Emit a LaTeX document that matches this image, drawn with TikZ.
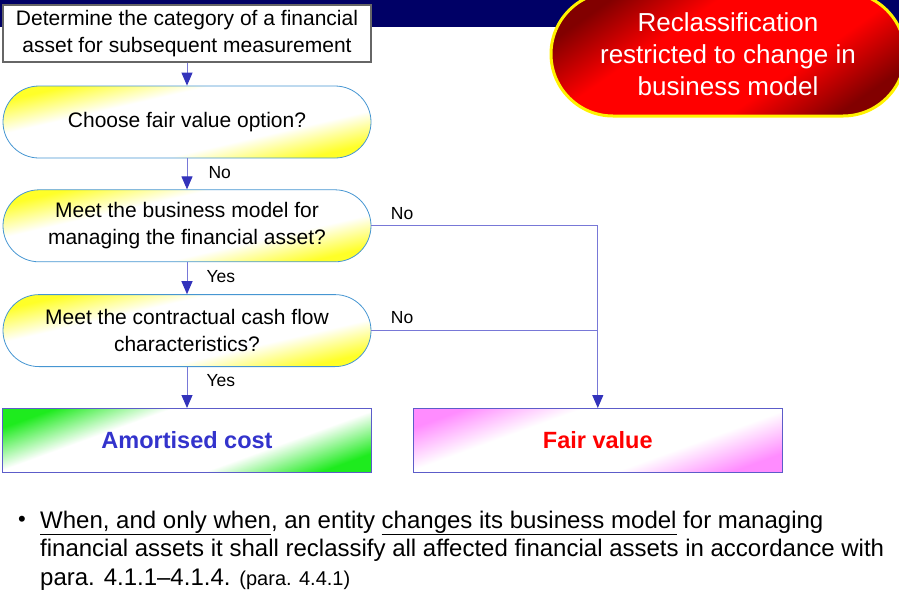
\documentclass[tikz,border=0pt]{standalone}
\usepackage{fontspec}
\setmainfont{Liberation Sans}
\usetikzlibrary{shapes,arrows.meta,positioning}

\definecolor{navybar}{RGB}{0,0,102}
\definecolor{arrowblue}{RGB}{51,51,187}
\definecolor{linkblue}{RGB}{120,120,215}
\definecolor{pillblue}{RGB}{70,150,210}
\definecolor{pillyellow}{RGB}{255,255,40}
\definecolor{boxgreen}{RGB}{30,235,30}
\definecolor{boxpink}{RGB}{255,140,255}
\definecolor{darkred}{RGB}{130,0,0}
\definecolor{costblue}{RGB}{51,51,204}

% diagonal fills (50bp = centre line, 1bp = 8pt across the shaded strip)
\pgfdeclareverticalshading{yellowshade}{100bp}{color(0bp)=(pillyellow); color(42.25bp)=(pillyellow); color(46.25bp)=(white); color(53.75bp)=(white); color(57.75bp)=(pillyellow); color(100bp)=(pillyellow)}
\pgfdeclareverticalshading{greenshade}{100bp}{color(0bp)=(boxgreen); color(40.6bp)=(boxgreen); color(45.6bp)=(white); color(54.4bp)=(white); color(59.4bp)=(boxgreen); color(100bp)=(boxgreen)}
\pgfdeclareverticalshading{pinkshade}{100bp}{color(0bp)=(boxpink); color(40.6bp)=(boxpink); color(45.6bp)=(white); color(54.4bp)=(white); color(59.4bp)=(boxpink); color(100bp)=(boxpink)}
\pgfdeclareverticalshading{redshade}{100bp}{color(0bp)=(darkred); color(36bp)=(darkred); color(43.75bp)=(red); color(56.25bp)=(red); color(64bp)=(darkred); color(100bp)=(darkred)}

\begin{document}
\begin{tikzpicture}[
    x=1pt, y=1pt,
    diagshade/.style n args={2}{path picture={\shade[shading=#1, transform canvas={rotate around={#2:(path picture bounding box.center)}}] ([shift={(-300,-200)}]path picture bounding box.center) rectangle ([shift={(300,200)}]path picture bounding box.center);}},
    startbox/.style={rectangle, draw=black!60, line width=1.2pt, fill=white, minimum width=368pt, minimum height=57pt, align=center, font=\fontsize{21}{27}\selectfont},
    question/.style={rectangle, rounded corners=36pt, draw=pillblue, line width=0.8pt, diagshade={yellowshade}{13}, minimum width=368pt, minimum height=72pt, align=center, font=\fontsize{21}{27}\selectfont},
    result/.style={rectangle, draw=arrowblue!80, line width=0.8pt, minimum width=369pt, minimum height=64pt, font=\fontsize{23.5}{28}\selectfont\bfseries},
    banner/.style={rectangle, rounded corners=62pt, draw=yellow, line width=3pt, diagshade={redshade}{35}, minimum width=354pt, minimum height=124pt, text=white, align=center, font=\fontsize{26}{32}\selectfont},
    arrow/.style={-{Triangle[width=11pt,length=13pt,color=arrowblue]}, draw=linkblue, line width=1pt},
    link/.style={draw=linkblue, line width=1pt},
    answer/.style={font=\fontsize{17.5}{20}\selectfont, inner sep=2pt}
]
\useasboundingbox (0,0) rectangle (899,-590);

% Title bar
\fill[navybar] (0,0) rectangle (899,-27);

% Flow steps
\node[startbox] (determine) at (187,-33.5) {Determine the category of a financial\\asset for subsequent measurement};
\node[question, below=23pt of determine] (fairoption) {Choose fair value option?};
\node[question, below=31pt of fairoption] (businessmodel) {Meet the business model for\\managing the financial asset?};
\node[question, below=32pt of businessmodel] (cashflow) {Meet the contractual cash flow\\characteristics?};

% Outcomes
\node[result, below=41pt of cashflow, text=costblue, diagshade={greenshade}{20}] (amortised) {Amortised cost};
\node[result, right=41pt of amortised, text=red, diagshade={pinkshade}{20}] (fairvalue) {Fair value};

% Banner
\node[banner] (reclass) at (728,-54) {Reclassification\\restricted to change in\\business model};

% Arrows
\draw[arrow] (determine) -- (fairoption);
\draw[arrow] (fairoption) -- node[answer, pos=0.47, right=19pt] {No} (businessmodel);
\draw[arrow] (businessmodel) -- node[answer, pos=0.44, right=17pt] {Yes} (cashflow);
\draw[arrow] (cashflow) -- node[answer, pos=0.34, right=17pt] {Yes} (amortised);
\draw[arrow] (businessmodel.east) -| node[answer, pos=0, anchor=south west, xshift=17pt, yshift=4pt] {No} (fairvalue.north);
\draw[link] (cashflow.east) -- node[answer, pos=0, anchor=south west, xshift=17pt, yshift=4pt] {No} (cashflow.east -| fairvalue.north);

% Note
\node[anchor=base, font=\fontsize{22}{25}\selectfont, inner sep=0pt] (bullet) at (22,-526) {\textbullet};
\node[anchor=north west, inner sep=0pt, align=left, font=\fontsize{24}{28.5}\selectfont] (note) at (40,-510.5) {\underline{When, and only when}, an entity \underline{changes its business model} for managing\\financial assets it shall reclassify all affected financial assets in accordance with\\para. 4.1.1--4.1.4. {\fontsize{20}{22}\selectfont (para. 4.4.1)}};

\end{tikzpicture}
\end{document}
